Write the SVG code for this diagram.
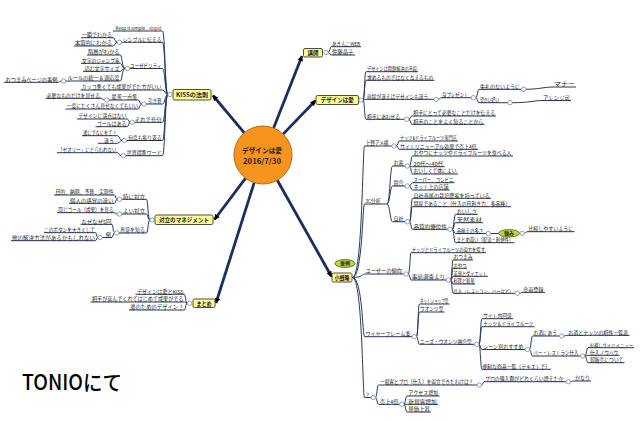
<svg xmlns="http://www.w3.org/2000/svg" width="640" height="421" viewBox="0 0 640 421">
<style>
.t{font-family:"Noto Sans CJK JP","Noto Sans",sans-serif;font-size:5.2px;fill:#1a1a1a}
.e{text-anchor:end}
.c{fill:none;stroke:#26395c;stroke-width:1}
.m{fill:none;stroke:#1b2f5a;stroke-width:2.8}
.k{fill:#fff;stroke:#6b7890;stroke-width:0.7}
.box{fill:#fdfd96;stroke:#3a3a2a;stroke-width:0.9}
.bt{font-family:"Noto Sans CJK JP","Noto Sans",sans-serif;font-size:6px;font-weight:bold;fill:#1a1a1a;text-anchor:middle}
.g{fill:#b9d63a;stroke:#3a4a1a;stroke-width:0.7}
</style>
<defs>
<marker id="ah" viewBox="0 0 10 10" refX="9" refY="5" markerWidth="2" markerHeight="2" orient="auto"><path d="M0,0L10,5L0,10z" fill="#000"/></marker>
</defs>
<rect width="640" height="421" fill="#fff"/>
<g id="connectors">
<line class="m" x1="244.3" y1="132.8" x2="213" y2="95.5" marker-end="url(#ah)"/>
<line class="m" x1="245.6" y1="178.2" x2="214.5" y2="219.5" marker-end="url(#ah)"/>
<line class="m" x1="254.2" y1="182.6" x2="216" y2="303" marker-end="url(#ah)"/>
<line class="m" x1="273.6" y1="128" x2="302" y2="56" marker-end="url(#ah)"/>
<line class="m" x1="283.1" y1="134.1" x2="315.5" y2="100.5" marker-end="url(#ah)"/>
<line class="m" x1="277.3" y1="180.2" x2="331.5" y2="276.5" marker-end="url(#ah)"/>
<path class="c" d="M167.8,94.5C165,94.5 165,31 162.5,31H113"/>
<path class="c" d="M167.8,94.5C165,94.5 165,42.3 162.5,42.3H121.7"/>
<path class="c" d="M167.8,94.5C165,94.5 165,68.5 162.5,68.5H129.5"/>
<path class="c" d="M167.8,94.5C165,94.5 165,90 162.5,90H80.5"/>
<path class="c" d="M167.8,94.5C165,94.5 165,104 162.5,104H146.2"/>
<path class="c" d="M167.8,94.5C165,94.5 165,122.3 162.5,122.3H134.5"/>
<path class="c" d="M167.8,94.5C165,94.5 165,140.5 162.5,140.5H126.5"/>
<path class="c" d="M167.8,94.5C165,94.5 165,155.7 162.5,155.7H125.5"/>
<path class="c" d="M117.3,42.3C115,42.3 115,37.7 113,37.7H81"/>
<path class="c" d="M117.3,42.3C115,42.3 115,46 113,46H74"/>
<path class="c" d="M125.1,68.5C122,68.5 122,55 120.5,55H87"/>
<path class="c" d="M125.1,68.5C122,68.5 122,63.3 120.5,63.3H81"/>
<path class="c" d="M125.1,68.5C122,68.5 122,71.3 120.5,71.3H83"/>
<path class="c" d="M125.1,68.5C122,68.5 122,81 120.5,81H65.7"/>
<path class="c" d="M61.3,81C59.5,81 59.5,82.3 58.5,82.3H4"/>
<path class="c" d="M141.8,104C139.5,104 139.5,100 138.5,100H108.9"/>
<path class="c" d="M104.5,100C102.5,100 102.5,98.3 101,98.3H45.5"/>
<path class="c" d="M141.8,104C139.5,104 139.5,109 138.5,109H65.5"/>
<path class="c" d="M130.1,122.3C128.5,122.3 128.5,119 127.5,119H77"/>
<path class="c" d="M130.1,122.3C128.5,122.3 128.5,126.7 127.5,126.7H95.5"/>
<path class="c" d="M122.1,140.5C119.5,140.5 119.5,135.7 117.5,135.7H82"/>
<path class="c" d="M122.1,140.5C119.5,140.5 119.5,143.3 117.5,143.3H98"/>
<path class="c" d="M121.1,155.7C119,155.7 119,152.7 117.5,152.7H57"/>
<path class="c" d="M149.8,220C148,220 148,199.3 146.5,199.3H121.7"/>
<path class="c" d="M117.3,199.3C115.5,199.3 115.5,195 114.5,195H54"/>
<path class="c" d="M117.3,199.3C115.5,199.3 115.5,203.3 114.5,203.3H69"/>
<path class="c" d="M149.8,220C148,220 148,214 146.5,214H121.7"/>
<path class="c" d="M117.3,214C115.5,214 115.5,212.7 114.5,212.7H57"/>
<path class="c" d="M149.8,220C148,220 148,233 146.5,233H118.9"/>
<path class="c" d="M114.5,233C113,233 113,224.3 112,224.3H80.5"/>
<path class="c" d="M114.5,233C113,233 113,237.5 112,237.5H102.2"/>
<path class="c" d="M97.8,237.5C96.5,237.5 96.5,232.7 95.5,232.7H44"/>
<path class="c" d="M97.8,237.5C96.5,237.5 96.5,240.7 95.5,240.7H11"/>
<path class="c" d="M187.3,303.3C185.5,303.3 185.5,294.3 184.5,294.3H135.5"/>
<path class="c" d="M187.3,303.3C185.5,303.3 185.5,302 184.5,302H90.5"/>
<path class="c" d="M187.3,303.3C185.5,303.3 185.5,310 184.5,310H129"/>
<path class="c" d="M328.2,52.5C330,52.5 330,46.7 331,46.7H361"/>
<path class="c" d="M328.2,52.5C330,52.5 330,55 331,55H355"/>
<path class="c" d="M363.1,100C364.5,100 364.5,71.7 366,71.7H418"/>
<path class="c" d="M363.1,100C364.5,100 364.5,80.3 366,80.3H434.5"/>
<path class="c" d="M363.1,100C364.5,100 364.5,99.3 366,99.3H434"/>
<path class="c" d="M438.4,99.3C440,99.3 440,97.7 441,97.7H471.2"/>
<path class="c" d="M475.6,97.7C477.5,97.7 477.5,89.3 479,89.3H521.5"/>
<path class="c" d="M525.9,89.3C538,89.3 545,87 553,87H576"/>
<path class="c" d="M475.6,97.7C477.5,97.7 477.5,102.7 479,102.7H507.8"/>
<path class="c" d="M512.2,102.7C530,102.7 535,100.5 542,100.5H571"/>
<path class="c" d="M363.1,100C364.5,100 364.5,119.3 366,119.3H404.5"/>
<path class="c" d="M408.9,119.3C410.5,119.3 410.5,116 412,116H496"/>
<path class="c" d="M408.9,119.3C410.5,119.3 410.5,124.3 412,124.3H484.5"/>
<path class="c" d="M352.5,277.5C362.5,277.5 362.5,146 364.5,146H391.8"/>
<path class="c" d="M352.5,277.5C362.5,277.5 362.5,204 364.5,204H387"/>
<path class="c" d="M352.5,277.5C362.5,277.5 362.5,274 364.5,274H403.8"/>
<path class="c" d="M352.5,277.5C362.5,277.5 362.5,336.7 364.5,336.7H412.1"/>
<path class="c" d="M352.5,277.5C362.5,277.5 362.5,397.5 364.5,397.5H371.1"/>
<path class="c" d="M396.2,146C398,146 398,141 399,141H458"/>
<path class="c" d="M396.2,146C398,146 398,149.3 399,149.3H478"/>
<path class="c" d="M387,204C390,204 390,166 392.5,166H405.1"/>
<path class="c" d="M387,204C390,204 390,186 392.5,186H405.1"/>
<path class="c" d="M387,204C390,204 390,221.7 392.5,221.7H405.3"/>
<path class="c" d="M409.5,166C411,166 411,156 412.5,156H513"/>
<path class="c" d="M409.5,166C411,166 411,166.7 412.5,166.7H444.5"/>
<path class="c" d="M409.5,166C411,166 411,174 412.5,174H458"/>
<path class="c" d="M409.5,186C411,186 411,182.7 412.5,182.7H454.5"/>
<path class="c" d="M409.5,186C411,186 411,190 412.5,190H449.5"/>
<path class="c" d="M409.7,221.7C411,221.7 411,198.3 412.5,198.3H491"/>
<path class="c" d="M409.7,221.7C411,221.7 411,206.7 412.5,206.7H511"/>
<path class="c" d="M409.7,221.7C411,221.7 411,229.3 412.5,229.3H447.8"/>
<path class="c" d="M452.2,229.3C454,229.3 454,214.3 455.5,214.3H478"/>
<path class="c" d="M452.2,229.3C454,229.3 454,222.7 455.5,222.7H483"/>
<path class="c" d="M452.2,229.3C454,229.3 454,233.5 455.5,233.5H486.1"/>
<path class="c" d="M452.2,229.3C454,229.3 454,242.7 455.5,242.7H514.5"/>
<path class="c" d="M490.5,233.5H498.5"/>
<path class="c" d="M524.4,233.3C525.8,233.3 525.8,231.7 527,231.7H574.5"/>
<path class="c" d="M408.2,274C410,274 410,252.7 411,252.7H486"/>
<path class="c" d="M408.2,274C410,274 410,280 411,280H446.2"/>
<path class="c" d="M450.6,280C452,280 452,260 453,260H473"/>
<path class="c" d="M450.6,280C452,280 452,268.3 453,268.3H467"/>
<path class="c" d="M450.6,280C452,280 452,276.3 453,276.3H488"/>
<path class="c" d="M450.6,280C452,280 452,284 453,284H475"/>
<path class="c" d="M450.6,280C452,280 452,293.3 453,293.3H515.1"/>
<path class="c" d="M519.5,293.3C521,293.3 521,292.3 522,292.3H545"/>
<path class="c" d="M416.5,336.7C418,336.7 418,304 419.5,304H449.5"/>
<path class="c" d="M416.5,336.7C418,336.7 418,312 419.5,312H444.5"/>
<path class="c" d="M416.5,336.7C418,336.7 418,344.3 419.5,344.3H474.5"/>
<path class="c" d="M478.9,344.3C480.5,344.3 480.5,318.7 482,318.7H513"/>
<path class="c" d="M478.9,344.3C480.5,344.3 480.5,326.7 482,326.7H534.5"/>
<path class="c" d="M478.9,344.3C480.5,344.3 480.5,349.5 482,349.5H525.1"/>
<path class="c" d="M478.9,344.3C480.5,344.3 480.5,369.3 482,369.3H551"/>
<path class="c" d="M529.5,349.5C531,349.5 531,336 532.5,336H559.5"/>
<path class="c" d="M529.5,349.5C531,349.5 531,356 532.5,356H580.5"/>
<path class="c" d="M563.9,336C565.5,336 565.5,335.3 567,335.3H629.5"/>
<path class="c" d="M584.9,356C586.5,356 586.5,347.7 588,347.7H634"/>
<path class="c" d="M584.9,356C586.5,356 586.5,355.3 588,355.3H619.5"/>
<path class="c" d="M584.9,356C586.5,356 586.5,362.7 588,362.7H624.5"/>
<path class="c" d="M375.5,397.5C377,397.5 377,385 378.5,385H477.1"/>
<path class="c" d="M481.5,385C483,385 483,381.7 484,381.7H566.1"/>
<path class="c" d="M570.5,381.7C572,381.7 572,381 573,381H591"/>
<path class="c" d="M375.5,397.5C377,397.5 377,404.3 378.5,404.3H399.5"/>
<path class="c" d="M403.9,404.3C405.5,404.3 405.5,396 407,396H439.5"/>
<path class="c" d="M403.9,404.3C405.5,404.3 405.5,404.3 407,404.3H438"/>
<path class="c" d="M403.9,404.3C405.5,404.3 405.5,412 407,412H431"/>
</g>
<g id="center">
<circle cx="263" cy="155" r="29" fill="#f7941e" stroke="#b86a10" stroke-width="1"/>
<text class="bt" x="262" y="152.5" style="font-size:7.2px" textLength="40" lengthAdjust="spacingAndGlyphs">デザインは愛</text>
<text class="bt" x="262" y="163.5" style="font-size:7.2px" textLength="38" lengthAdjust="spacingAndGlyphs">2016/7/30</text>
</g>
<g id="kiss">
<rect class="box" x="173" y="89.5" width="38" height="10.5" rx="1.5"/>
<text class="bt" x="192" y="97" textLength="32" lengthAdjust="spacingAndGlyphs">KISSの法則</text>
<circle class="k" cx="170" cy="94.5" r="2.2"/>
</g>
<g id="kiss-children">
<text class="t e" x="147.5" y="30.2" style="font-size:4.6px" textLength="32" lengthAdjust="spacingAndGlyphs">Keep it simple ,</text>
<text class="t e" x="161.5" y="30.2" style="font-size:4.6px;fill:#c00000" textLength="12.5" lengthAdjust="spacingAndGlyphs">stupid</text>
<text class="t e" x="161.5" y="41.5" textLength="38.5" lengthAdjust="spacingAndGlyphs">シンプルに伝える</text>
<circle class="k" cx="119.5" cy="42.3" r="2.2"/>
<text class="t e" x="112" y="36.9" textLength="30" lengthAdjust="spacingAndGlyphs">一瞬でわかる</text>
<text class="t e" x="112" y="45.2" textLength="37" lengthAdjust="spacingAndGlyphs">本質的にわかる</text>
<text class="t e" x="161.5" y="67.7" textLength="31.5" lengthAdjust="spacingAndGlyphs">ユーザビリティ</text>
<circle class="k" cx="127.3" cy="68.5" r="2.2"/>
<text class="t e" x="119.5" y="54.2" textLength="31.5" lengthAdjust="spacingAndGlyphs">階層がわかる</text>
<text class="t e" x="119.5" y="62.5" textLength="37.5" lengthAdjust="spacingAndGlyphs">文字のジャンプ率</text>
<text class="t e" x="119.5" y="70.5" textLength="35" lengthAdjust="spacingAndGlyphs">読む文字サイズ</text>
<text class="t e" x="119.5" y="80.2" textLength="52" lengthAdjust="spacingAndGlyphs">ルールの統一＆適応度</text>
<circle class="k" cx="63.5" cy="81" r="2.2"/>
<text class="t e" x="57.5" y="81.5" textLength="52" lengthAdjust="spacingAndGlyphs">おつまみページの事例</text>
<text class="t e" x="161.5" y="89.2" textLength="80" lengthAdjust="spacingAndGlyphs">カッコ悪くても成果がでた方がいい</text>
<text class="t e" x="161.5" y="103.2" textLength="13.2" lengthAdjust="spacingAndGlyphs">引き算</text>
<circle class="k" cx="144" cy="104" r="2.2"/>
<text class="t e" x="137.5" y="99.2" textLength="26" lengthAdjust="spacingAndGlyphs">最善一点集</text>
<circle class="k" cx="106.7" cy="100" r="2.2"/>
<text class="t e" x="100" y="97.5" textLength="53.3" lengthAdjust="spacingAndGlyphs">必要なものだけを見せる</text>
<text class="t e" x="138" y="108.2" textLength="71.3" lengthAdjust="spacingAndGlyphs">一度にたくさん見せなくてもいい</text>
<text class="t e" x="161.5" y="121.5" textLength="26.5" lengthAdjust="spacingAndGlyphs">それで充分</text>
<circle class="k" cx="132.3" cy="122.3" r="2.2"/>
<text class="t e" x="126.5" y="118.2" textLength="48.2" lengthAdjust="spacingAndGlyphs">デザインに満点はない</text>
<text class="t e" x="126.5" y="125.9" textLength="29.8" lengthAdjust="spacingAndGlyphs">ゴールはある</text>
<text class="t e" x="161.5" y="139.7" textLength="33.2" lengthAdjust="spacingAndGlyphs">何度も振り返る</text>
<circle class="k" cx="124.3" cy="140.5" r="2.2"/>
<text class="t e" x="116.5" y="134.9" textLength="33.2" lengthAdjust="spacingAndGlyphs">誰にでなにをて？</text>
<text class="t e" x="114" y="142.5" textLength="10" lengthAdjust="spacingAndGlyphs">違う</text>
<text class="t e" x="161.5" y="154.9" textLength="34.8" lengthAdjust="spacingAndGlyphs">世界標準ワード</text>
<circle class="k" cx="123.3" cy="155.7" r="2.2"/>
<text class="t e" x="116.5" y="151.9" textLength="58.2" lengthAdjust="spacingAndGlyphs">「セオリー」にとらわれない</text>
</g>
<g id="conflict">
<rect class="box" x="155" y="215" width="58" height="9.5" rx="1.5"/>
<text class="bt" x="184" y="222" textLength="50" lengthAdjust="spacingAndGlyphs">対立のマネジメント</text>
<circle class="k" cx="152" cy="220" r="2.2"/>
</g>
<g id="conflict-children">
<text class="t e" x="145" y="198.5" textLength="22" lengthAdjust="spacingAndGlyphs">時に対立</text>
<circle class="k" cx="119.5" cy="199.3" r="2.2"/>
<text class="t e" x="113.5" y="194.2" textLength="58" lengthAdjust="spacingAndGlyphs">目的、納期、予算、実現性</text>
<text class="t e" x="113.5" y="202.5" textLength="43.5" lengthAdjust="spacingAndGlyphs">個人の感覚の違い</text>
<text class="t e" x="145" y="213.2" textLength="22" lengthAdjust="spacingAndGlyphs">よい対立</text>
<circle class="k" cx="119.5" cy="214" r="2.2"/>
<text class="t e" x="113.5" y="211.9" textLength="55.2" lengthAdjust="spacingAndGlyphs">同じゴール（成果）を見る</text>
<text class="t e" x="145" y="232.2" textLength="25" lengthAdjust="spacingAndGlyphs">真意を知る</text>
<circle class="k" cx="116.7" cy="233" r="2.2"/>
<text class="t e" x="111.5" y="223.5" textLength="30" lengthAdjust="spacingAndGlyphs">なぜなぜ5回</text>
<text class="t e" x="111" y="236.7" textLength="5.2" lengthAdjust="spacingAndGlyphs">例</text>
<circle class="k" cx="100" cy="237.5" r="2.2"/>
<text class="t e" x="95" y="231.9" textLength="51" lengthAdjust="spacingAndGlyphs">このボタンを大きくして</text>
<text class="t e" x="95" y="239.9" textLength="83" lengthAdjust="spacingAndGlyphs">他の解決方法があるかもしれない</text>
</g>
<g id="summary">
<rect class="box" x="193" y="299" width="22" height="8.5" rx="1.5"/>
<text class="bt" x="204" y="305.5" textLength="15" lengthAdjust="spacingAndGlyphs">まとめ</text>
<circle class="k" cx="189.5" cy="303.3" r="2.2"/>
<text class="t e" x="183.5" y="293.5" textLength="46.6" lengthAdjust="spacingAndGlyphs">デザインは愛とKISS</text>
<text class="t e" x="183.5" y="301.2" textLength="91.6" lengthAdjust="spacingAndGlyphs">相手が喜んでくれてはじめて成果がでる</text>
<text class="t e" x="183.5" y="309.2" textLength="53.3" lengthAdjust="spacingAndGlyphs">誰のためのデザイン？</text>
</g>
<g id="lecturer">
<rect class="box" x="303.5" y="48.5" width="19" height="8.5" rx="1.5"/>
<text class="bt" x="313" y="55" textLength="11" lengthAdjust="spacingAndGlyphs">講師</text>
<circle class="k" cx="326" cy="52.5" r="2.2"/>
<text class="t" x="332" y="45.9" textLength="28" lengthAdjust="spacingAndGlyphs">あきんこWEB</text>
<text class="t" x="332" y="54.2" textLength="21.5" lengthAdjust="spacingAndGlyphs">佐藤晶子</text>
</g>
<g id="love">
<rect class="box" x="316" y="95.5" width="42.5" height="9" rx="1.5"/>
<text class="bt" x="337.2" y="102.2" textLength="33" lengthAdjust="spacingAndGlyphs">デザインは愛</text>
<circle class="k" cx="360.9" cy="100" r="2.2"/>
<text class="t" x="367" y="70.9" textLength="50" lengthAdjust="spacingAndGlyphs">デザインは問題解決の手段</text>
<text class="t" x="367" y="79.5" textLength="66.3" lengthAdjust="spacingAndGlyphs">求めるものではなく与えるもの</text>
<text class="t" x="367" y="98.5" textLength="61.3" lengthAdjust="spacingAndGlyphs">前提が違えばデザインも違う</text>
<circle class="k" cx="436.2" cy="99.3" r="2.2"/>
<text class="t" x="442" y="96.9" textLength="26.5" lengthAdjust="spacingAndGlyphs">良プレゼント</text>
<circle class="k" cx="473.4" cy="97.7" r="2.2"/>
<text class="t" x="480" y="88.5" textLength="40" lengthAdjust="spacingAndGlyphs">失礼のないように</text>
<circle class="k" cx="523.7" cy="89.3" r="2.2"/>
<text class="t" x="554" y="86.2" textLength="21" lengthAdjust="spacingAndGlyphs">マナー</text>
<text class="t" x="480" y="101.9" textLength="19" lengthAdjust="spacingAndGlyphs">望かい好い</text>
<circle class="k" cx="510" cy="102.7" r="2.2"/>
<text class="t" x="543" y="99.7" textLength="27" lengthAdjust="spacingAndGlyphs">アレンジ可</text>
<text class="t" x="367" y="118.5" textLength="33" lengthAdjust="spacingAndGlyphs">相手にあわせる</text>
<circle class="k" cx="406.7" cy="119.3" r="2.2"/>
<text class="t" x="413.3" y="115.2" textLength="81.7" lengthAdjust="spacingAndGlyphs">相手にとって必要なことだけを伝える</text>
<text class="t" x="413.3" y="123.5" textLength="70" lengthAdjust="spacingAndGlyphs">相手のことをよく知ることから</text>
</g>
<g id="strategy">
<rect class="box" x="332" y="273" width="20" height="9" rx="1.5"/>
<text class="bt" x="342" y="279.8" textLength="15" lengthAdjust="spacingAndGlyphs">小戦略</text>
<ellipse class="g" cx="345" cy="263.5" rx="10" ry="4"/>
<text class="bt" x="345" y="265.4" style="font-size:5px" textLength="10" lengthAdjust="spacingAndGlyphs">単例</text>
</g>
<g id="strategy-children">
<text class="t" x="365.5" y="145.2" textLength="23" lengthAdjust="spacingAndGlyphs">上野アメ横</text>
<circle class="k" cx="394" cy="146" r="2.2"/>
<text class="t" x="400" y="140.2" textLength="56.7" lengthAdjust="spacingAndGlyphs">ナッツ&amp;ドライフルーツ専門店</text>
<text class="t" x="400" y="148.5" textLength="76.7" lengthAdjust="spacingAndGlyphs">サイトリニューアル効果で売上4倍</text>
<text class="t" x="365.5" y="203.2" textLength="15" lengthAdjust="spacingAndGlyphs">3C分析</text>
<text class="t" x="393.5" y="165.2" textLength="10" lengthAdjust="spacingAndGlyphs">お客</text>
<circle class="k" cx="407.3" cy="166" r="2.2"/>
<text class="t" x="413.5" y="155.2" textLength="98" lengthAdjust="spacingAndGlyphs">おやつにナッツやドライフルーツを食べる人</text>
<text class="t" x="413.5" y="165.9" textLength="30" lengthAdjust="spacingAndGlyphs">20代～40代</text>
<text class="t" x="413.5" y="173.2" textLength="43" lengthAdjust="spacingAndGlyphs">おいしくて体によい</text>
<text class="t" x="393.5" y="185.2" textLength="10" lengthAdjust="spacingAndGlyphs">競合</text>
<circle class="k" cx="407.3" cy="186" r="2.2"/>
<text class="t" x="413.5" y="181.9" textLength="40" lengthAdjust="spacingAndGlyphs">スーパー、コンビニ</text>
<text class="t" x="413.5" y="189.2" textLength="35" lengthAdjust="spacingAndGlyphs">ネット上の店舗</text>
<text class="t" x="393.5" y="220.9" textLength="10" lengthAdjust="spacingAndGlyphs">自社</text>
<circle class="k" cx="407.5" cy="221.7" r="2.2"/>
<text class="t" x="413.5" y="197.5" textLength="76.5" lengthAdjust="spacingAndGlyphs">自社専属の栽培農家を持っている</text>
<text class="t" x="413.5" y="205.9" textLength="96.5" lengthAdjust="spacingAndGlyphs">問屋であること（仕入の目利き力、多品種）</text>
<text class="t" x="413.5" y="228.5" textLength="33.3" lengthAdjust="spacingAndGlyphs">品質的優位性</text>
<circle class="k" cx="450" cy="229.3" r="2.2"/>
<text class="t" x="456.7" y="213.5" textLength="20" lengthAdjust="spacingAndGlyphs">おいしさ</text>
<text class="t" x="456.7" y="221.9" textLength="25" lengthAdjust="spacingAndGlyphs">天然素材</text>
<text class="t" x="456.7" y="232.7" textLength="26.6" lengthAdjust="spacingAndGlyphs">品揃えの多さ</text>
<circle class="k" cx="488.3" cy="233.5" r="2.2"/>
<ellipse class="g" cx="509" cy="233.3" rx="10.5" ry="3.7"/>
<text class="bt" x="509" y="235.2" style="font-size:5px" textLength="10" lengthAdjust="spacingAndGlyphs">強み</text>
<circle class="k" cx="522.2" cy="233.3" r="2.2"/>
<text class="t" x="528.3" y="230.9" textLength="45" lengthAdjust="spacingAndGlyphs">比較しやすいように</text>
<text class="t" x="456.7" y="241.9" textLength="56.6" lengthAdjust="spacingAndGlyphs">まとめ買い（配送・利便性）</text>
<text class="t" x="365.5" y="273.2" textLength="36.5" lengthAdjust="spacingAndGlyphs">ユーザーの傾向</text>
<circle class="k" cx="406" cy="274" r="2.2"/>
<text class="t" x="411.8" y="251.9" textLength="73.2" lengthAdjust="spacingAndGlyphs">ナッツとドライフルーツの両方を探す</text>
<text class="t" x="411.8" y="279.2" textLength="33.2" lengthAdjust="spacingAndGlyphs">事前調査より</text>
<circle class="k" cx="448.4" cy="280" r="2.2"/>
<text class="t" x="453.5" y="259.2" textLength="19" lengthAdjust="spacingAndGlyphs">おつまみ</text>
<text class="t" x="453.5" y="267.5" textLength="13" lengthAdjust="spacingAndGlyphs">おやつ</text>
<text class="t" x="453.5" y="275.5" textLength="33.5" lengthAdjust="spacingAndGlyphs">美容とダイエット</text>
<text class="t" x="453.5" y="283.2" textLength="21" lengthAdjust="spacingAndGlyphs">料理と製菓</text>
<text class="t" x="453.5" y="292.5" style="font-size:4.3px" textLength="60" lengthAdjust="spacingAndGlyphs">仕入（レストラン、バーなど）</text>
<circle class="k" cx="517.3" cy="293.3" r="2.2"/>
<text class="t" x="523.3" y="291.5" textLength="20" lengthAdjust="spacingAndGlyphs">会員登録</text>
<text class="t" x="365.5" y="335.9" textLength="45" lengthAdjust="spacingAndGlyphs">ワイヤーフレーム案</text>
<circle class="k" cx="414.3" cy="336.7" r="2.2"/>
<text class="t" x="420" y="303.2" textLength="28.3" lengthAdjust="spacingAndGlyphs">ネットショップ型</text>
<text class="t" x="420" y="311.2" textLength="23.3" lengthAdjust="spacingAndGlyphs">ウオンツ型</text>
<text class="t" x="420" y="343.5" textLength="51.7" lengthAdjust="spacingAndGlyphs">ニーズ・ウオンツ融合型</text>
<circle class="k" cx="476.7" cy="344.3" r="2.2"/>
<text class="t" x="483.3" y="317.9" textLength="28.4" lengthAdjust="spacingAndGlyphs">サイト内回遊</text>
<text class="t" x="483.3" y="325.9" textLength="50" lengthAdjust="spacingAndGlyphs">ナッツ＆ドライフルーツ</text>
<text class="t" x="483.3" y="348.7" textLength="40" lengthAdjust="spacingAndGlyphs">シーン別おすすめ</text>
<circle class="k" cx="527.3" cy="349.5" r="2.2"/>
<text class="t" x="533.5" y="335.2" textLength="23.3" lengthAdjust="spacingAndGlyphs">お酒にあう</text>
<circle class="k" cx="561.7" cy="336" r="2.2"/>
<text class="t" x="568.3" y="334.5" textLength="60" lengthAdjust="spacingAndGlyphs">お酒とナッツの相性一覧表</text>
<text class="t" x="533.5" y="355.2" textLength="45" lengthAdjust="spacingAndGlyphs">バー・レストラン仕入</text>
<circle class="k" cx="582.7" cy="356" r="2.2"/>
<text class="t" x="589.5" y="346.9" style="font-size:4.3px" textLength="43.5" lengthAdjust="spacingAndGlyphs">お通しサイドメニュー</text>
<text class="t" x="590" y="354.5" textLength="28.3" lengthAdjust="spacingAndGlyphs">仕入ノウハウ</text>
<text class="t" x="590" y="361.9" textLength="33.3" lengthAdjust="spacingAndGlyphs">卸販売について</text>
<text class="t" x="482.5" y="368.5" textLength="67.5" lengthAdjust="spacingAndGlyphs">便利な商品一覧（テキストで）</text>
<text class="t" x="365" y="396.7" textLength="5" lengthAdjust="spacingAndGlyphs">？</text>
<circle class="k" cx="373.3" cy="397.5" r="2.2"/>
<text class="t" x="380" y="384.2" textLength="93.3" lengthAdjust="spacingAndGlyphs">一般客とプロ（仕入）を両立できたわけは？</text>
<circle class="k" cx="479.3" cy="385" r="2.2"/>
<text class="t" x="485" y="380.9" textLength="78.3" lengthAdjust="spacingAndGlyphs">プロの購入額がどれくらい増えたか</text>
<circle class="k" cx="568.3" cy="381.7" r="2.2"/>
<text class="t" x="575" y="380.2" textLength="15" lengthAdjust="spacingAndGlyphs">かなり</text>
<text class="t" x="380" y="403.5" textLength="18.3" lengthAdjust="spacingAndGlyphs">売上4倍</text>
<circle class="k" cx="401.7" cy="404.3" r="2.2"/>
<text class="t" x="408.3" y="395.2" textLength="30" lengthAdjust="spacingAndGlyphs">アクセス増加</text>
<text class="t" x="408.3" y="403.5" textLength="28.4" lengthAdjust="spacingAndGlyphs">新規客増加</text>
<text class="t" x="408.3" y="411.2" textLength="21.7" lengthAdjust="spacingAndGlyphs">単価上昇</text>
</g>
<g id="caption">
<text x="22" y="390" style="font-family:'Noto Sans CJK JP','Noto Sans',sans-serif;font-size:21px;font-weight:500;fill:#000" textLength="100" lengthAdjust="spacingAndGlyphs">TONIOにて</text>
</g>
</svg>
